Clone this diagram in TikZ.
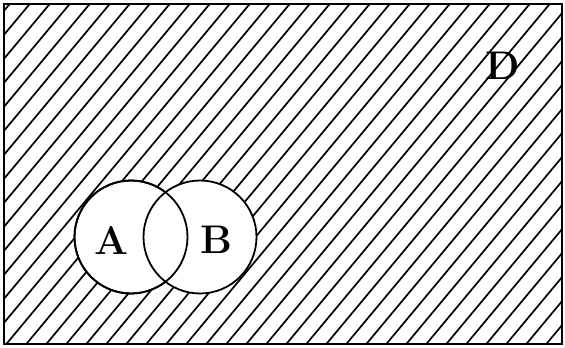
\documentclass[tikz,border=0pt]{standalone}
\usepackage{fontspec}
\usepackage{tikz}
\usetikzlibrary{positioning}
\tikzset{
setdisk/.style = {circle, draw, fill=white, line width=1.8pt,
                  minimum size=#1, inner sep=0pt},
setdisk/.default = 113pt, % diameter of a set
hatch/.style = {line width=1.7pt},
setname/.style = {font=\bfseries\fontsize{40}{42}\selectfont, inner sep=0pt}
}
\newcommand{\setnode}[2]{\node[setdisk] (#1) at (#2) {};}
\newcommand{\setlabel}[3]{\node[setname] (#1) at (#2) {#3};}

\begin{document}
\begin{tikzpicture}[x=1pt,y=-1pt]
        \useasboundingbox (0,0) rectangle (565,348);
        \coordinate (nw) at (4,4);
        \coordinate (se) at (562,344);
        % hatching of the universe
        \begin{scope}
        \clip (nw) rectangle (se);
        \foreach \x in {-7,13,...,873}
          \draw[hatch] (\x,0) -- ++(-300,360);
        \end{scope}
        \draw[line width=2.4pt] (nw) rectangle (se);
        % the two sets
        \setnode{a}{131,237};
        \setnode{b}{200,237};
        \draw[line width=1.8pt] (a.center) circle[radius=56.5pt];
        \setlabel{la}{111,240}{A};
        \setlabel{lb}{216,240}{B};
        \setlabel{ld}{503,66}{D};
        \end{tikzpicture}
\end{document}
